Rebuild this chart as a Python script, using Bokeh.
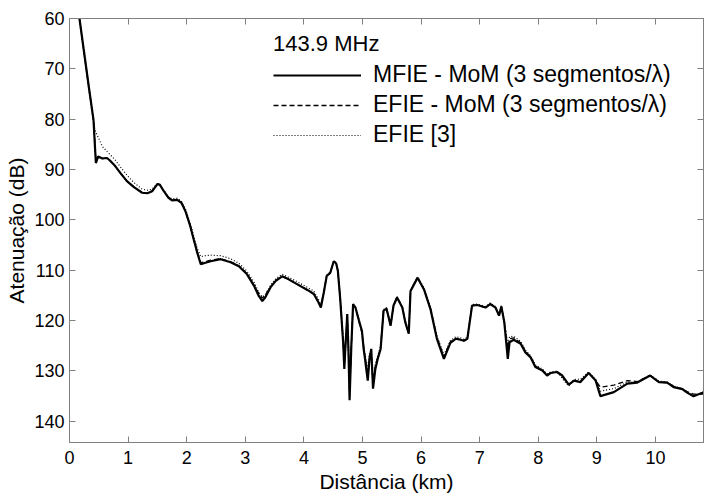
from bokeh.plotting import figure
from bokeh.models import Range1d, LinearAxis, FixedTicker, Legend, LegendItem
from bokeh.embed import file_html
from bokeh.resources import INLINE

# ---- data ----
distance_km = [0.12, 0.17, 0.25, 0.33, 0.41, 0.43, 0.45, 0.49, 0.56, 0.64,
               0.69, 0.78, 0.87, 0.98, 1.10, 1.24, 1.33, 1.41, 1.50, 1.54,
               1.61, 1.69, 1.75, 1.84, 1.91, 1.98, 2.06, 2.12, 2.18, 2.24,
               2.32, 2.41, 2.58, 2.75, 2.89, 3.03, 3.15, 3.23, 3.29, 3.34,
               3.43, 3.52, 3.63, 3.74, 3.89, 4.06, 4.17, 4.25, 4.29, 4.34,
               4.39, 4.45, 4.51, 4.55, 4.58, 4.62, 4.67, 4.69, 4.71, 4.73,
               4.74, 4.76, 4.78, 4.81, 4.84, 4.88, 4.94, 4.99, 5.02, 5.04,
               5.09, 5.12, 5.15, 5.18, 5.22, 5.26, 5.31, 5.36, 5.41, 5.48,
               5.53, 5.59, 5.68, 5.73, 5.79, 5.82, 5.88, 5.94, 6.05, 6.16,
               6.27, 6.39, 6.50, 6.59, 6.67, 6.73, 6.79, 6.87, 6.96, 7.10,
               7.18, 7.27, 7.33, 7.37, 7.42, 7.48, 7.51, 7.58, 7.70, 7.78,
               7.87, 7.95, 8.07, 8.15, 8.21, 8.32, 8.41, 8.52, 8.61, 8.72,
               8.86, 8.98, 9.06, 9.29, 9.52, 9.69, 9.91, 10.06, 10.20, 10.31,
               10.46, 10.54, 10.65, 10.80, 10.86]

mfie_mom = [57.0, 60.0, 66.8, 73.6, 80.2, 84.5, 88.7, 87.4, 87.8, 87.7,
            88.2, 89.3, 90.7, 92.3, 93.5, 94.6, 94.7, 94.3, 92.9, 93.0,
            94.3, 95.6, 96.1, 96.0, 96.6, 98.3, 101.2, 103.9, 106.5, 108.8,
            108.5, 108.2, 107.8, 108.4, 109.2, 110.8, 113.1, 115.1, 116.1, 115.4,
            113.4, 112.1, 111.2, 111.8, 112.8, 113.9, 114.7, 116.4, 117.4, 114.4,
            111.1, 110.5, 108.2, 108.6, 110.1, 115.7, 124.3, 129.6, 125.0, 121.0,
            118.7, 125.6, 135.8, 125.0, 116.7, 117.4, 120.0, 122.0, 125.6, 127.3,
            131.9, 127.6, 125.6, 133.5, 129.6, 127.6, 125.6, 118.0, 117.6, 121.0,
            117.0, 115.4, 117.4, 120.3, 122.6, 114.1, 112.8, 111.5, 113.8, 117.7,
            123.6, 127.6, 124.4, 123.6, 123.8, 124.0, 123.6, 117.0, 116.9, 117.4,
            116.7, 117.4, 119.0, 117.2, 120.3, 127.6, 124.3, 123.8, 124.6, 126.3,
            127.3, 129.2, 129.9, 130.9, 130.4, 130.2, 130.9, 132.7, 131.9, 132.2,
            130.4, 131.9, 135.0, 134.2, 132.5, 132.3, 130.9, 132.2, 132.3, 133.2,
            133.6, 134.3, 135.0, 134.3, 134.0]

efie_mom = [57.0, 60.0, 66.8, 73.6, 80.2, 84.0, 88.3, 87.4, 87.8, 87.7,
            88.2, 89.3, 90.7, 92.3, 93.5, 94.6, 94.7, 94.3, 92.9, 93.0,
            94.3, 95.6, 96.1, 96.0, 96.6, 98.3, 101.2, 103.9, 106.3, 108.5,
            108.3, 108.0, 107.7, 108.3, 109.1, 110.7, 113.0, 114.6, 115.5, 115.0,
            113.3, 112.0, 111.2, 111.8, 112.8, 113.9, 114.7, 116.3, 117.2, 114.4,
            111.1, 110.5, 108.2, 108.6, 110.1, 115.6, 124.0, 129.0, 125.0, 121.0,
            118.8, 125.4, 135.0, 125.0, 116.8, 117.4, 120.2, 122.4, 125.3, 127.0,
            130.8, 127.0, 126.5, 132.5, 129.0, 127.4, 125.4, 118.0, 117.6, 121.0,
            117.0, 115.4, 117.4, 120.3, 122.5, 114.1, 112.8, 111.5, 113.8, 117.6,
            123.3, 127.2, 124.2, 123.5, 123.7, 124.0, 123.6, 117.0, 116.9, 117.4,
            116.7, 117.4, 119.0, 117.2, 120.2, 125.5, 123.6, 123.4, 124.4, 126.1,
            127.2, 129.0, 129.8, 130.8, 130.4, 130.2, 131.1, 132.7, 131.9, 132.0,
            130.4, 131.9, 133.2, 132.8, 131.9, 132.1, 130.9, 132.2, 132.3, 133.0,
            133.6, 134.1, 134.6, 134.6, 134.4]

efie_ref = [57.5, 60.3, 67.2, 74.0, 80.6, 81.8, 82.6, 83.6, 85.4, 86.4,
            87.0, 88.1, 89.5, 91.1, 92.6, 93.9, 94.1, 93.9, 92.8, 93.0,
            94.1, 95.5, 95.8, 95.7, 96.3, 97.9, 100.6, 103.2, 105.6, 107.3,
            107.1, 107.0, 107.1, 107.7, 108.6, 110.2, 112.4, 114.4, 115.3, 114.8,
            113.0, 111.7, 110.8, 111.4, 112.3, 113.4, 114.1, 115.8, 116.8, 114.2,
            111.0, 110.3, 108.1, 108.5, 110.0, 115.3, 123.5, 128.5, 124.8, 121.0,
            118.9, 125.0, 134.5, 125.0, 116.9, 117.3, 119.8, 121.8, 124.8, 126.5,
            129.5, 126.5, 128.0, 131.8, 128.6, 127.0, 125.0, 117.8, 117.4, 120.6,
            116.8, 115.2, 117.2, 120.0, 122.2, 114.0, 112.6, 111.3, 113.5, 117.2,
            123.0, 126.8, 124.0, 123.2, 123.4, 123.7, 123.3, 116.8, 116.7, 117.2,
            116.5, 117.2, 118.8, 117.0, 120.0, 124.8, 123.2, 123.1, 124.1, 125.8,
            127.0, 128.8, 129.6, 130.6, 130.2, 130.0, 131.5, 133.0, 131.7, 131.6,
            130.2, 131.7, 134.0, 133.5, 132.2, 132.2, 130.8, 132.0, 132.2, 133.0,
            133.5, 134.2, 134.8, 134.5, 134.2]

x_ticks = [0, 1, 2, 3, 4, 5, 6, 7, 8, 9, 10]
y_ticks = [60, 70, 80, 90, 100, 110, 120, 130, 140]

legend_title = "143.9 MHz"
series_labels = ["MFIE - MoM (3 segmentos/λ)",
                 "EFIE - MoM (3 segmentos/λ)",
                 "EFIE [3]"]

FONT = "Liberation Sans"
AXIS_GRAY = "#808080"

p = figure(width=704, height=495, output_backend="svg", toolbar_location=None,
           x_range=Range1d(0, 10.82), y_range=Range1d(144.2, 60),
           min_border_left=69, min_border_right=1, min_border_top=18,
           min_border_bottom=51, x_axis_label="Distância (km)",
           y_axis_label="Atenuação (dB)")
p.background_fill_color = "white"
p.border_fill_color = "white"
p.grid.visible = False
p.outline_line_color = AXIS_GRAY
p.outline_line_width = 1

r_dot = p.line(distance_km, efie_ref, line_color="black", line_width=1.2,
               line_dash="1 2")
r_dash = p.line(distance_km, efie_mom, line_color="black", line_width=1.3,
                line_dash="5 3")
r_solid = p.line(distance_km, mfie_mom, line_color="black", line_width=2.2)

for ax, ticks in ((p.xaxis[0], x_ticks), (p.yaxis[0], y_ticks)):
    ax.ticker = FixedTicker(ticks=ticks)
    ax.minor_tick_line_color = None
    ax.major_tick_in = 6
    ax.major_tick_out = 0
    ax.axis_line_color = AXIS_GRAY
    ax.major_tick_line_color = AXIS_GRAY
    ax.major_label_text_font = FONT
    ax.major_label_text_font_size = "18px"
    ax.major_label_text_color = "black"
    ax.axis_label_text_font = FONT
    ax.axis_label_text_font_size = "21px"
    ax.axis_label_text_font_style = "normal"
    ax.axis_label_text_color = "black"

p.xaxis[0].major_label_standoff = 8
p.xaxis[0].axis_label_standoff = 3
p.yaxis[0].major_label_standoff = 5
p.yaxis[0].axis_label_standoff = 3

top_axis = LinearAxis(ticker=FixedTicker(ticks=x_ticks),
                      major_label_overrides={t: "" for t in x_ticks})
right_axis = LinearAxis(ticker=FixedTicker(ticks=y_ticks),
                        major_label_overrides={t: "" for t in y_ticks})
for ax in (top_axis, right_axis):
    ax.major_label_text_font_size = "1px"
    ax.major_label_standoff = 0
    ax.minor_tick_line_color = None
    ax.major_tick_in = 6
    ax.major_tick_out = 0
    ax.axis_line_color = AXIS_GRAY
    ax.major_tick_line_color = AXIS_GRAY
p.add_layout(top_axis, "above")
p.add_layout(right_axis, "right")

legend = Legend(items=[LegendItem(label=series_labels[0], renderers=[r_solid]),
                       LegendItem(label=series_labels[1], renderers=[r_dash]),
                       LegendItem(label=series_labels[2], renderers=[r_dot])],
                title=legend_title, location=(204, 294))
legend.border_line_alpha = 0
legend.background_fill_alpha = 0
legend.padding = 0
legend.margin = 0
legend.spacing = 3
legend.glyph_width = 88
legend.glyph_height = 20
legend.label_standoff = 12
legend.label_text_font = FONT
legend.label_text_font_size = "23px"
legend.label_text_color = "black"
legend.title_text_font = FONT
legend.title_text_font_size = "22px"
legend.title_text_font_style = "normal"
legend.title_text_color = "black"
legend.title_standoff = 4
p.add_layout(legend)

open("out.html", "w").write(file_html(p, INLINE))
